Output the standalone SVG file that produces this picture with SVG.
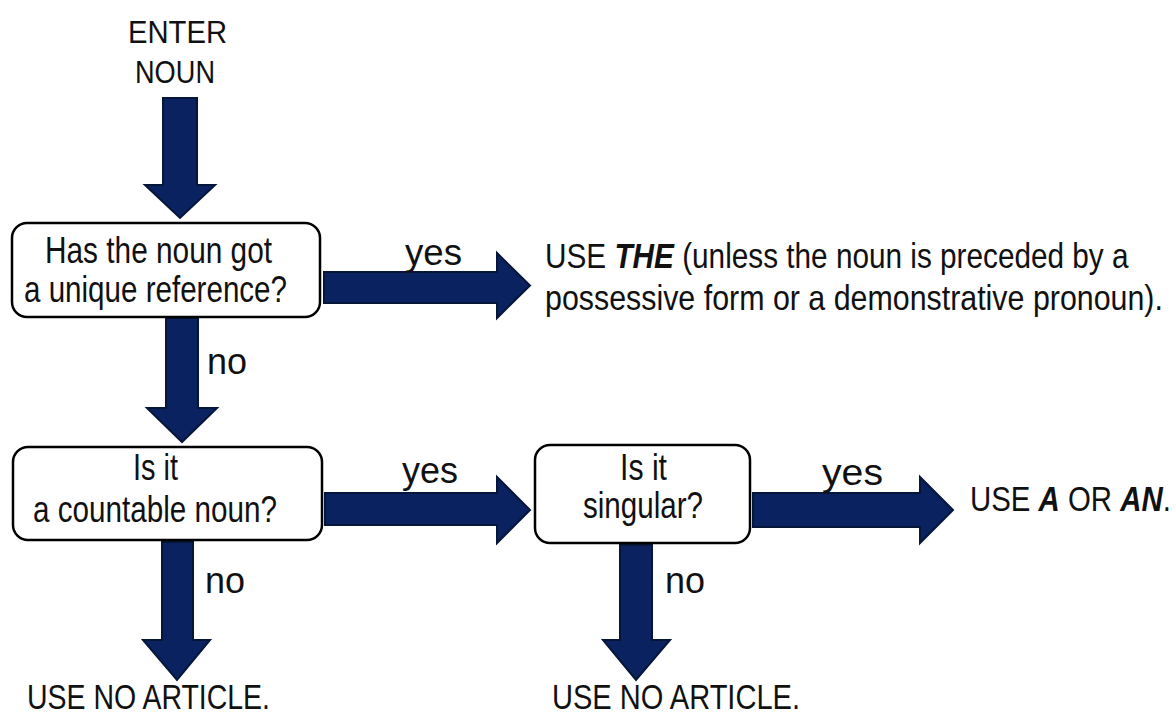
<svg xmlns="http://www.w3.org/2000/svg" width="1176" height="715" viewBox="0 0 1176 715">
<style>
text{font-family:"Liberation Sans",Arial,sans-serif;font-size:36px;fill:#111}
.sm{font-size:32px}
.rt{font-size:35px}
.bi{font-weight:bold;font-style:italic}
.box{fill:#fff;stroke:#000;stroke-width:2.5}
.arr{fill:#0b2260;stroke:#061638;stroke-width:2;stroke-linejoin:miter}
</style>
<rect width="1176" height="715" fill="#fff"/>
<g id="connectors">
<polygon class="arr" points="163,98 197,98 197,185 215,185 180,218 145,185 163,185"/>
<polygon class="arr" points="166,318 198,318 198,408 217,408 182,442 147,408 166,408"/>
<polygon class="arr" points="324,272 497,272 497,253 530,285.5 497,318 497,303 324,303"/>
<polygon class="arr" points="325,493 497,493 497,477 530,510 497,543 497,525 325,525"/>
<polygon class="arr" points="753,493 920,493 920,477 953,510 920,543 920,527 753,527"/>
<polygon class="arr" points="162,542 193,542 193,640 210,640 177,680 143,640 162,640"/>
<polygon class="arr" points="620,545 652,545 652,640 670,640 636,680 603,640 620,640"/>
<text x="405" y="265" textLength="57" lengthAdjust="spacingAndGlyphs">yes</text>
<text x="207" y="374" textLength="40" lengthAdjust="spacingAndGlyphs">no</text>
<text x="402" y="483" textLength="56" lengthAdjust="spacingAndGlyphs">yes</text>
<text x="822" y="485" textLength="61" lengthAdjust="spacingAndGlyphs">yes</text>
<text x="205" y="593" textLength="40" lengthAdjust="spacingAndGlyphs">no</text>
<text x="665" y="593" textLength="40" lengthAdjust="spacingAndGlyphs">no</text>
</g>
<g id="start">
<text class="sm" x="128" y="43" textLength="99" lengthAdjust="spacingAndGlyphs">ENTER</text>
<text class="sm" x="135" y="83" textLength="80" lengthAdjust="spacingAndGlyphs">NOUN</text>
</g>
<g id="q1">
<rect class="box" x="12" y="223" width="308" height="94" rx="15"/>
<text x="45" y="263" textLength="227" lengthAdjust="spacingAndGlyphs">Has the noun got</text>
<text x="24" y="302" textLength="263" lengthAdjust="spacingAndGlyphs">a unique reference?</text>
</g>
<g id="use-the">
<text class="rt" transform="translate(545,268) scale(0.85,1)">USE <tspan class="bi">THE</tspan> (unless the noun is preceded by a</text>
<text class="rt" transform="translate(545,310) scale(0.868,1)">possessive form or a demonstrative pronoun).</text>
</g>
<g id="q2">
<rect class="box" x="13" y="447" width="309" height="93" rx="15"/>
<text x="133" y="480" textLength="45" lengthAdjust="spacingAndGlyphs">Is it</text>
<text x="33" y="522" textLength="244" lengthAdjust="spacingAndGlyphs">a countable noun?</text>
</g>
<g id="q3">
<rect class="box" x="535" y="445" width="215" height="98" rx="15"/>
<text x="620" y="480" textLength="47" lengthAdjust="spacingAndGlyphs">Is it</text>
<text x="583" y="518" textLength="120" lengthAdjust="spacingAndGlyphs">singular?</text>
</g>
<g id="use-a">
<text class="rt" transform="translate(970,511) scale(0.84,1)">USE <tspan class="bi">A</tspan> OR <tspan class="bi">AN</tspan>.</text>
</g>
<g id="no-article-1">
<text class="rt" x="27" y="709" textLength="243" lengthAdjust="spacingAndGlyphs">USE NO ARTICLE.</text>
</g>
<g id="no-article-2">
<text class="rt" x="552" y="709" textLength="248" lengthAdjust="spacingAndGlyphs">USE NO ARTICLE.</text>
</g>
</svg>
